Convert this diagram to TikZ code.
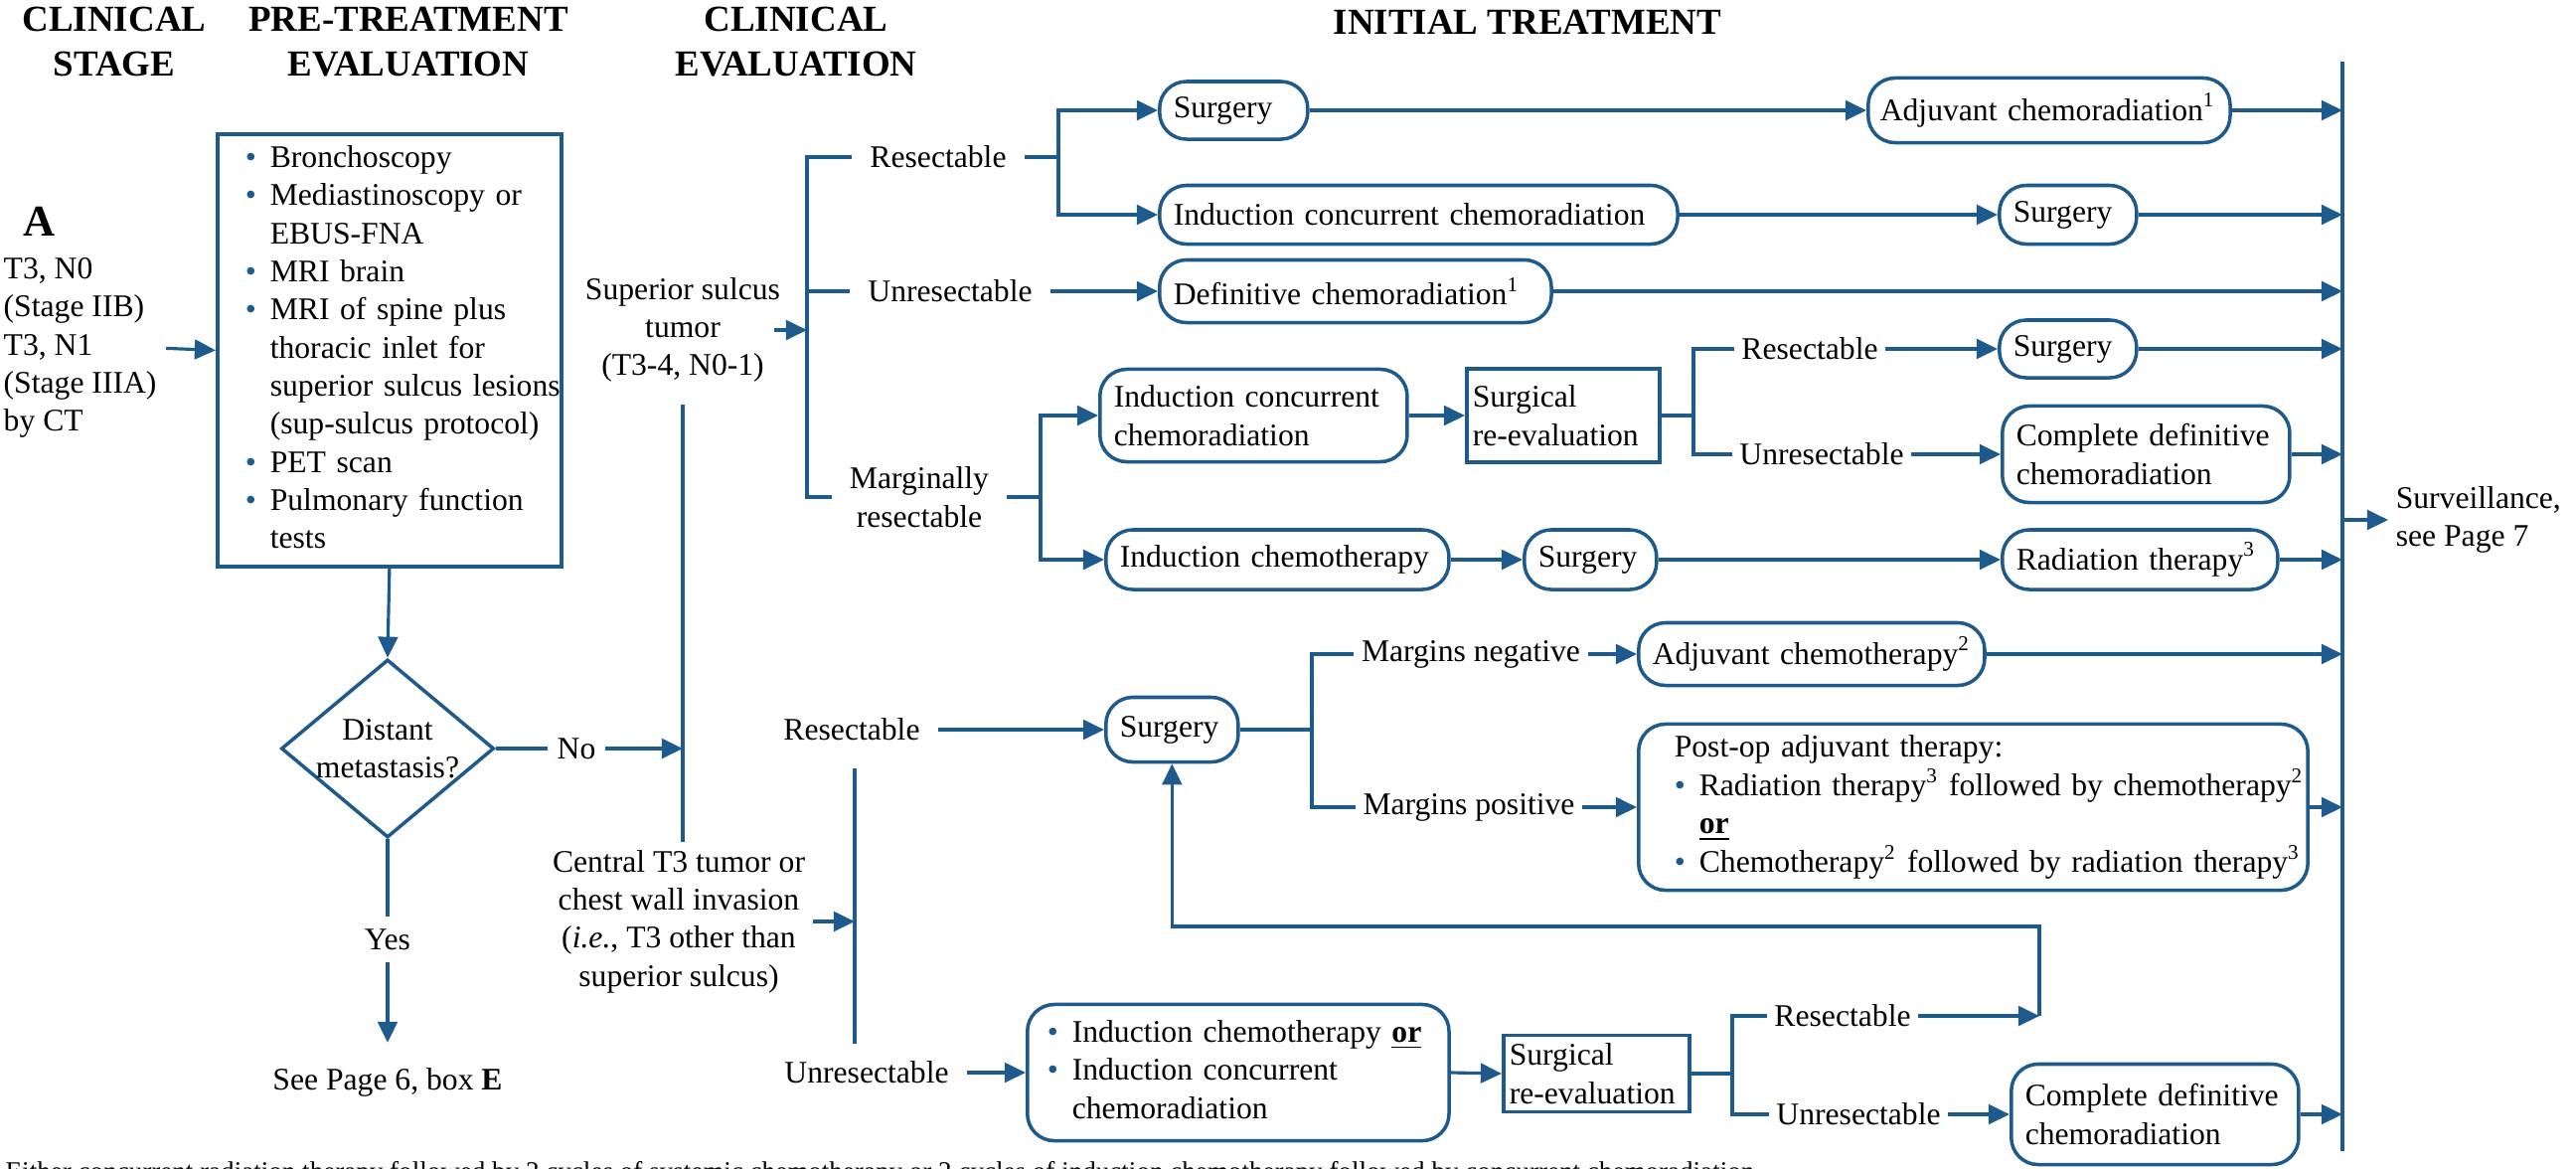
\documentclass[tikz,border=0pt]{standalone}
\usepackage{fontspec}
\setmainfont{Liberation Serif}
\usepackage{xcolor}
\usepackage{tikz}
\usetikzlibrary{shapes.geometric, arrows.meta, positioning, calc}
\definecolor{flowblue}{HTML}{1F5A8C}
\newcommand{\bu}{\makebox[0.25cm][l]{\textcolor{flowblue}{\textbullet}}}

\begin{document}
\begin{tikzpicture}[
  x=0.01cm, y=-0.01cm,
  font=\fontsize{9}{10.9}\selectfont,
  ln/.style={draw=flowblue, line width=0.9pt},
  arr/.style={ln, -{Triangle[length=6pt,width=5.6pt]}},
  rbox/.style={
    rectangle, rounded corners=0.27cm, draw=flowblue, line width=1pt,
    inner xsep=0.14cm, inner ysep=0pt, align=left, anchor=west
  },
  sbox/.style={
    rectangle, draw=flowblue, line width=1pt,
    inner xsep=0.06cm, inner ysep=0pt, align=left, anchor=west
  },
  lbl/.style={inner xsep=5pt, inner ysep=2pt, align=center},
  tlbl/.style={inner xsep=2pt, inner ysep=2pt, align=center},
  head/.style={font=\fontsize{10.5}{12.8}\selectfont\bfseries, align=center},
]
\useasboundingbox (0,0) rectangle (2592,1175);

% Column headings
\node[head] (hstage) at (115,42) {CLINICAL\\STAGE};
\node[head] (hpre) at (411,42) {PRE-TREATMENT\\EVALUATION};
\node[head] (hclin) at (801,42) {CLINICAL\\EVALUATION};
\node[head] (hinit) at (1537,22) {INITIAL TREATMENT};

% Clinical stage and work-up
\node[font=\fontsize{12.6}{14}\selectfont\bfseries] (lettera) at (39,223) {A};
\node[anchor=west, align=left, inner xsep=0pt] (stage) at (3,350) {T3, N0\\(Stage IIB)\\T3, N1\\(Stage IIIA)\\by CT};
\node[sbox, anchor=north west, text width=3.18cm, inner xsep=0.14cm, minimum height=4.35cm] (pre) at (217,133) {\hspace*{0.14cm}\begin{tabular}{@{}l@{}l@{}}
\bu & Bronchoscopy\\
\bu & Mediastinoscopy or\\
    & EBUS-FNA\\
\bu & MRI brain\\
\bu & MRI of spine plus\\
    & thoracic inlet for\\
    & superior sulcus lesions\\
    & (sup-sulcus protocol)\\
\bu & PET scan\\
\bu & Pulmonary function\\
    & tests
\end{tabular}};
\node[diamond, draw=flowblue, line width=1pt, minimum width=2.14cm, minimum height=1.79cm, inner sep=0pt] (dist) at (390,753) {};
\node[align=center] (distlbl) at (dist) {Distant\\metastasis?};
\node[tlbl, inner xsep=2.5pt] (no) at (580,753) {No};
\node[tlbl, inner ysep=3.3pt] (yes) at (390,945) {Yes};
\node[tlbl] (see) at (390,1089) {See Page 6, box \textbf{E}};

% Clinical evaluation
\node[tlbl] (ss) at (687,332) {Superior sulcus\\tumor\\(T3-4, N0-1)};
\node[tlbl] (cen) at (683,927) {Central T3 tumor or\\chest wall invasion\\(\textit{i.e.}, T3 other than\\superior sulcus)};
\node[lbl] (res1) at (944,158) {Resectable};
\node[lbl] (unres1) at (956,293) {Unresectable};
\node[lbl] (marg) at (925,500) {Marginally\\resectable};
\node[lbl] (res3) at (857,734) {Resectable};
\node[lbl] (unres3) at (872,1079) {Unresectable};

% bracket points and the closing bar
\coordinate (b1) at (812,332);
\coordinate (b2) at (1065,158);
\coordinate (b3) at (1047,500);
\coordinate (b4) at (1704,418);
\coordinate (b5) at (860,927);
\coordinate (b6) at (1320,734);
\coordinate (b7) at (1743,1080);
\coordinate (endT) at (2357,62);
\coordinate (endB) at (2357,1158);
\coordinate (lpR) at (2052,1022);
\coordinate (lpT) at (2052,932);

% Superior sulcus: resectable / unresectable
\node[rbox, text width=1.21cm, minimum height=0.58cm] (surg1) at (1165,111) {Surgery};
\node[rbox, inner xsep=0.12cm, text width=3.40cm, minimum height=0.65cm] (adj1) at (1878,111) {Adjuvant chemoradiation\textsuperscript{1}};
\node[rbox, text width=4.93cm, minimum height=0.59cm] (icc1) at (1165,216) {Induction concurrent chemoradiation};
\node[rbox, text width=1.10cm, minimum height=0.59cm] (surg2) at (2010,216) {Surgery};
\node[rbox, text width=3.66cm, minimum height=0.63cm] (dcr) at (1165,293) {Definitive chemoradiation\textsuperscript{1}};

% Superior sulcus: marginally resectable
\node[rbox, text width=2.81cm, minimum height=0.93cm] (icc2) at (1105,418) {Induction concurrent\\chemoradiation};
\node[sbox, text width=1.82cm, minimum height=0.94cm] (sre1) at (1474,418) {Surgical\\re-evaluation};
\node[tlbl] (res2) at (1821,351) {Resectable};
\node[tlbl] (unres2) at (1833,457) {Unresectable};
\node[rbox, text width=1.10cm, minimum height=0.58cm] (surg3) at (2010,351) {Surgery};
\node[rbox, text width=2.61cm, minimum height=0.97cm] (cdc1) at (2013,457) {Complete definitive\\chemoradiation};
\node[rbox, text width=3.17cm, minimum height=0.60cm] (ichemo1) at (1111,563) {Induction chemotherapy};
\node[rbox, text width=1.05cm, minimum height=0.60cm] (surg4) at (1532,563) {Surgery};
\node[rbox, text width=2.49cm, minimum height=0.60cm] (rt1) at (2013,563) {Radiation therapy\textsuperscript{3}};
\node[tlbl, anchor=west, align=left] (surv) at (2403,523) {Surveillance,\\see Page 7};

% Central T3: resectable
\node[rbox, text width=1.05cm, minimum height=0.65cm] (surg5) at (1111,734) {Surgery};
\node[tlbl] (mneg) at (1480,658) {Margins negative};
\node[tlbl] (mpos) at (1478,812) {Margins positive};
\node[rbox, text width=3.20cm, minimum height=0.63cm] (adjc) at (1647,658) {Adjuvant chemotherapy\textsuperscript{2}};
\node[rbox, text width=6.45cm, minimum height=1.67cm] (postop) at (1647,812) {\hspace*{0.22cm}\begin{tabular}{@{}l@{}l@{}}
\multicolumn{2}{@{}l@{}}{Post-op adjuvant therapy:}\\
\bu & Radiation therapy\textsuperscript{3} followed by chemotherapy\textsuperscript{2}\\
    & \underline{\textbf{or}}\\
\bu & Chemotherapy\textsuperscript{2} followed by radiation therapy\textsuperscript{3}
\end{tabular}};

% Central T3: unresectable
\node[rbox, inner xsep=0.2cm, text width=3.84cm, minimum height=1.37cm] (ibx) at (1032,1079) {\begin{tabular}{@{}l@{}l@{}}
\bu & Induction chemotherapy \underline{\textbf{or}}\\
\bu & Induction concurrent\\
    & chemoradiation
\end{tabular}};
\node[sbox, text width=1.75cm, minimum height=0.77cm] (sre2) at (1511,1080) {Surgical\\re-evaluation};
\node[tlbl] (res4) at (1854,1022) {Resectable};
\node[tlbl] (unres4) at (1870,1121) {Unresectable};
\node[rbox, text width=2.61cm, minimum height=1.01cm] (cdc2) at (2022,1121) {Complete definitive\\chemoradiation};

% footnote, cut by the page edge as in the source
\node[anchor=base west, inner sep=0pt, font=\fontsize{7.7}{9}\selectfont] (fnote) at (5,1187) {Either concurrent radiation therapy followed by 2 cycles of systemic chemotherapy or 2 cycles of induction chemotherapy followed by concurrent chemoradiation};

% Work-up arrows
\draw[arr, shorten <=0.09cm] (stage.east) -- (pre.west);
\draw[arr] (pre.south) -- (dist.north);
\draw[ln] (dist.east) -- (no.west);
\draw[arr] (no.east) -- (no.east -| ss.south);
\draw[ln] (dist.south) -- (yes.north);
\draw[arr, shorten >=0.18cm] (yes.south) -- (see.north);
\draw[ln, shorten <=0.15cm] (ss.south) -- (ss.south |- cen.north);

% Superior sulcus branches
\draw[arr] ([xshift=-4pt]ss.east) -- (ss.east -| b1);
\draw[ln] (res1.west) -- (res1.west -| b1) -- (marg.west -| b1) -- (marg.west);
\draw[ln] (unres1.west -| b1) -- (unres1.west);
\draw[ln] (res1.east) -- (b2);
\draw[arr] (b2) |- (surg1.west);
\draw[arr] (b2) |- (icc1.west);
\draw[arr] (surg1.east) -- (adj1.west);
\draw[arr] (icc1.east) -- (surg2.west);
\draw[arr] (unres1.east) -- (dcr.west);
\draw[ln] (marg.east) -- (b3);
\draw[arr] (b3) |- (icc2.west);
\draw[arr] (b3) |- (ichemo1.west);
\draw[arr] (icc2.east) -- (sre1.west);
\draw[ln] (sre1.east) -- (b4);
\draw[ln] (res2.west) -- (res2.west -| b4) -- (unres2.west -| b4) -- (unres2.west);
\draw[arr] (res2.east) -- (surg3.west);
\draw[arr] (unres2.east) -- (cdc1.west);
\draw[arr] (ichemo1.east) -- (surg4.west);
\draw[arr] (surg4.east) -- (rt1.west);

% Central T3 branches
\draw[arr] (cen.east) -- (b5);
\draw[ln, shorten <=0.2cm, shorten >=0.1cm] (res3.south -| b5) -- (unres3.north -| b5);
\draw[arr] (res3.east) -- (surg5.west);
\draw[ln] (surg5.east) -- (b6);
\draw[ln] (mneg.west) -- (mneg.west -| b6) -- (mpos.west -| b6) -- (mpos.west);
\draw[arr] (mneg.east) -- (adjc.west);
\draw[arr] (mpos.east) -- (postop.west);
\draw[arr] (unres3.east) -- (ibx.west);
\draw[arr] (ibx.east) -- (sre2.west);
\draw[ln] (sre2.east) -- (b7);
\draw[ln] (res4.west) -- (res4.west -| b7) -- (unres4.west -| b7) -- (unres4.west);
\draw[arr] (unres4.east) -- (cdc2.west);
\draw[arr] (res4.east) -- (lpR);
\draw[arr] (lpR) -- (lpT) -| (surg5.south);

% Into the closing bar, then surveillance
\draw[ln] (endT) -- (endB);
\draw[arr] (adj1.east) -- (adj1.east -| endT);
\draw[arr] (surg2.east) -- (surg2.east -| endT);
\draw[arr] (dcr.east) -- (dcr.east -| endT);
\draw[arr] (surg3.east) -- (surg3.east -| endT);
\draw[arr] (cdc1.east) -- (cdc1.east -| endT);
\draw[arr] (rt1.east) -- (rt1.east -| endT);
\draw[arr] (adjc.east) -- (adjc.east -| endT);
\draw[arr] (postop.east) -- (postop.east -| endT);
\draw[arr] (cdc2.east) -- (cdc2.east -| endT);
\draw[arr] (surv.west -| endT) -- (surv.west);
\end{tikzpicture}
\end{document}
